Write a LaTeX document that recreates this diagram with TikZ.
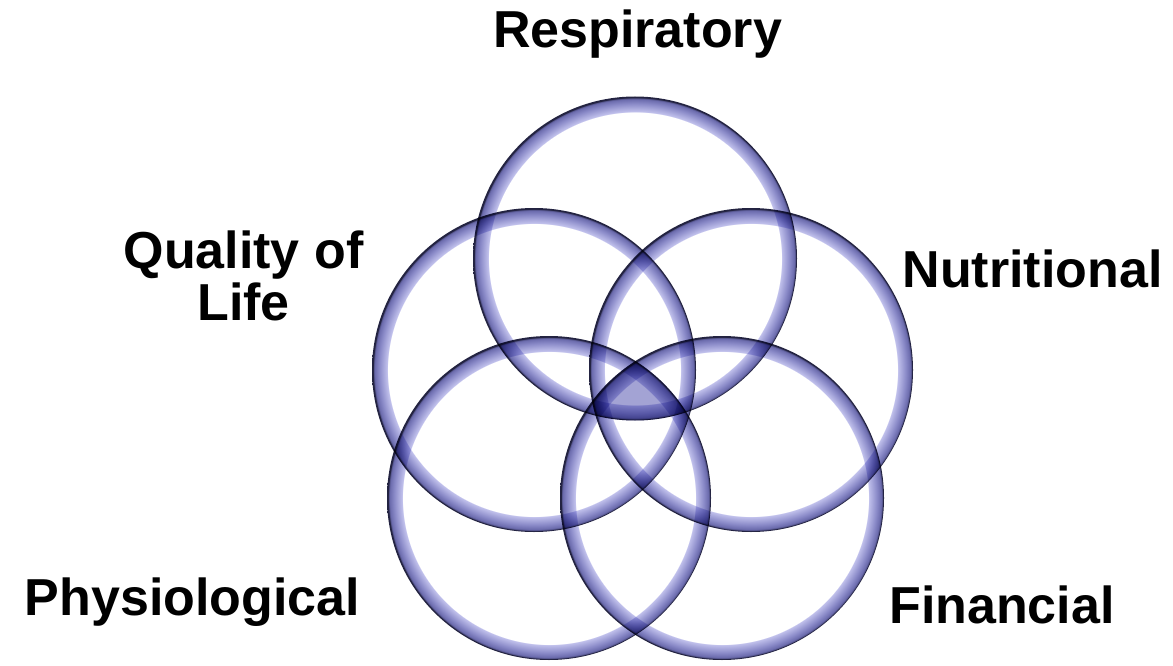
\documentclass[tikz,border=0pt]{standalone}
\usepackage{fontspec}
\setmainfont{Liberation Sans}
\definecolor{ringedge}{RGB}{35,35,65}
\definecolor{ringdark}{RGB}{104,104,170}
\definecolor{ringmid}{RGB}{138,138,200}
\definecolor{ringlight}{RGB}{196,196,238}
\definecolor{corefill}{RGB}{125,125,195}
\pgfdeclareradialshading{glassring}{\pgfpointorigin}{%
  color(0bp)=(white); color(22.55bp)=(white); color(22.6bp)=(ringlight);
  color(23.9bp)=(ringmid); color(24.65bp)=(ringdark); color(24.85bp)=(ringedge);
  color(25bp)=(ringedge); color(50bp)=(ringedge)}
\tikzset{
  label/.style={font=\fontsize{52}{52}\selectfont\bfseries, inner sep=0pt, anchor=base},
  ring/.style={shading=glassring}
}
\begin{document}
\begin{tikzpicture}[x=1pt,y=-1pt]
\useasboundingbox (0,0) rectangle (1173,666);
\fill[white] (0,0) rectangle (1173,666);
\coordinate (cR) at (635,258.5);
\coordinate (cQ) at (534,370);
\coordinate (cN) at (751,370);
\coordinate (cP) at (549,498);
\coordinate (cF) at (722,498);
\begin{scope}[blend mode=multiply]
  \shade[ring] (cR) circle (162);
  \shade[ring] (cQ) circle (162);
  \shade[ring] (cN) circle (162);
  \shade[ring] (cP) circle (162);
  \shade[ring] (cF) circle (162);
\end{scope}
\begin{scope}[blend mode=multiply]
  \clip (cR) circle (162);
  \clip (cQ) circle (162);
  \clip (cN) circle (162);
  \clip (cP) circle (162);
  \clip (cF) circle (162);
  \fill[corefill, opacity=0.7] (638,399) circle (120);
\end{scope}
\node[label] (resp) at (637.5,48) {Respiratory};
\node[label] (qol1) at (243.5,268) {Quality of};
\node[label] (qol2) at (243.5,320) {Life};
\node[label] (nutr) at (1032.5,287) {Nutritional};
\node[label] (phys) at (192.5,615) {Physiological};
\node[label] (fin) at (1002,623) {Financial};
\end{tikzpicture}
\end{document}
